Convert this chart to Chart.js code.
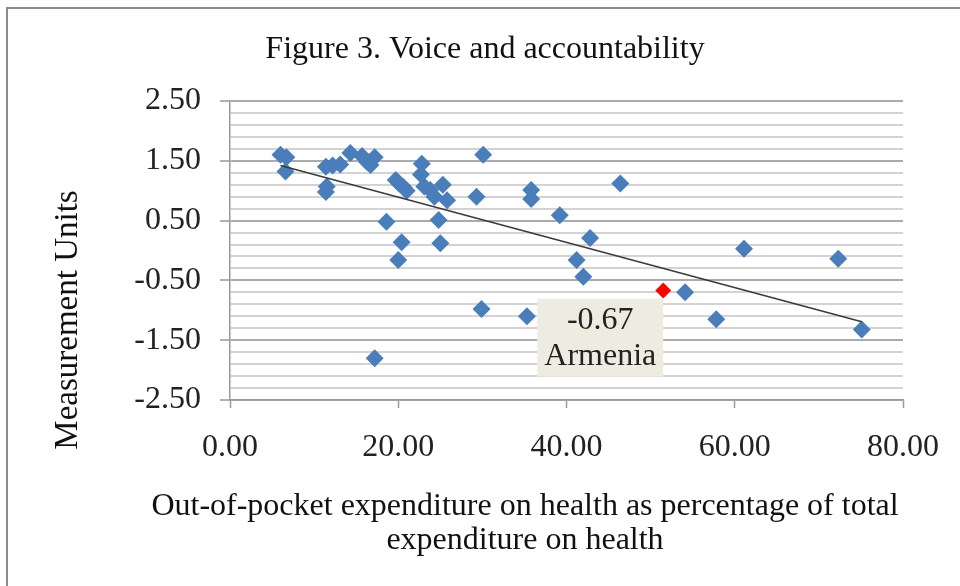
<!DOCTYPE html>
<html lang="en">
<head>
<meta charset="UTF-8">
<title>Figure 3. Voice and accountability</title>
<script src="https://cdn.jsdelivr.net/npm/chart.js"></script>
<style>
  body { margin: 0; background: #fff; }
  .chart-container { position: relative; width: 960px; height: 586px; }
</style>
</head>
<body>
<div class="chart-container"><canvas id="vaChart"></canvas></div>
<script>
  // Out-of-pocket expenditure on health (% of total), one value per country
  const oopX = [6.0, 6.7, 6.6, 11.4, 12.2, 13.1, 11.5, 11.4, 14.3, 15.7,
                16.3, 16.7, 17.2, 19.7, 20.1, 20.6, 21.0, 22.8, 22.7, 23.1,
                23.8, 24.3, 25.3, 25.8, 18.6, 24.8, 20.4, 25.0, 20.0, 17.2,
                30.1, 29.3, 35.8, 35.8, 39.2, 42.8, 46.4, 41.2, 42.0, 54.1,
                29.9, 35.3, 61.1, 72.3, 57.8, 75.1];
  // Voice and accountability score for the same countries
  const vaY = [1.60, 1.56, 1.32, 1.40, 1.42, 1.44, 1.07, 0.98, 1.63, 1.58,
               1.48, 1.43, 1.56, 1.18, 1.12, 1.06, 1.00, 1.45, 1.27, 1.07,
               1.01, 0.90, 1.10, 0.84, 0.48, 0.51, 0.14, 0.12, -0.16, -1.80,
               1.60, 0.90, 1.01, 0.86, 0.59, 0.21, 1.12, -0.16, -0.44, -0.70,
               -0.98, -1.10, 0.03, -0.14, -1.15, -1.32];

  // highlighted country
  const armeniaX = [51.5];
  const armeniaY = [-0.67];
  const armeniaName = ['Armenia'];

  // linear trend line end points
  const trendX = [6.0, 75.1];
  const trendY = [1.42, -1.19];

  const xTickValues = [0, 20, 40, 60, 80];
  const xTickLabels = ['0.00', '20.00', '40.00', '60.00', '80.00'];
  const yTickValues = [-2.5, -1.5, -0.5, 0.5, 1.5, 2.5];
  const yTickLabels = ['-2.50', '-1.50', '-0.50', '0.50', '1.50', '2.50'];

  const xTitle = ['Out-of-pocket expenditure on health as percentage of total',
                  'expenditure on health'];

  const serif = '"Liberation Serif", "Times New Roman", serif';

  function isMajorY(v) {
    return yTickValues.some(t => Math.abs(t - v) < 1e-6);
  }

  // frame, titles and the Armenia call-out
  const decorPlugin = {
    id: 'decor',
    beforeDraw(chart) {
      const ctx = chart.ctx;
      ctx.save();
      ctx.strokeStyle = '#8c8c8c';
      ctx.lineWidth = 2;
      ctx.beginPath();
      ctx.moveTo(7, 586);
      ctx.lineTo(7, 8);
      ctx.lineTo(960, 8);
      ctx.stroke();
      ctx.restore();
    },
    afterDatasetsDraw(chart) {
      const ctx = chart.ctx;
      const xs = chart.scales.x, ys = chart.scales.y;
      const px = xs.getPixelForValue(armeniaX[0]);
      const py = ys.getPixelForValue(armeniaY[0]);
      const w = 126, h = 78;
      const bx = px - w, by = py + 8;
      ctx.save();
      ctx.fillStyle = '#eeece1';
      ctx.fillRect(bx, by, w, h);
      ctx.fillStyle = '#222';
      ctx.font = '32px ' + serif;
      ctx.textAlign = 'center';
      ctx.textBaseline = 'middle';
      ctx.fillText(armeniaY[0].toFixed(2), bx + w / 2, by + 22);
      ctx.fillText(armeniaName[0], bx + w / 2, by + 58);
      ctx.restore();
    },
    afterDraw(chart) {
      const ctx = chart.ctx;
      ctx.save();
      ctx.fillStyle = '#111';
      ctx.font = '32px ' + serif;
      ctx.textAlign = 'center';
      ctx.textBaseline = 'alphabetic';
      ctx.fillText('Figure 3. Voice and accountability', 485, 58);

      // x axis title, wider than the plot area in the original
      ctx.fillText(xTitle[0], 525, 515);
      ctx.fillText(xTitle[1], 525, 549);

      ctx.font = '33px ' + serif;
      ctx.translate(68, 320);
      ctx.rotate(-Math.PI / 2);
      ctx.textBaseline = 'middle';
      ctx.fillText('Measurement Units', 0, 0);
      ctx.restore();
    }
  };

  const ctx = document.getElementById('vaChart').getContext('2d');
  new Chart(ctx, {
    type: 'scatter',
    data: {
      datasets: [
        {
          type: 'line',
          label: 'Trend',
          data: trendX.map((x, i) => ({ x: x, y: trendY[i] })),
          borderColor: '#3a3a3a',
          borderWidth: 1.5,
          pointRadius: 0,
          fill: false
        },
        {
          label: armeniaName[0],
          data: armeniaX.map((x, i) => ({ x: x, y: armeniaY[i] })),
          pointStyle: 'rectRot',
          pointRadius: 8,
          backgroundColor: '#ff0000',
          borderColor: '#ff0000',
          borderWidth: 0
        },
        {
          label: 'Countries',
          data: oopX.map((x, i) => ({ x: x, y: vaY[i] })),
          pointStyle: 'rectRot',
          pointRadius: 9,
          backgroundColor: '#4a7ebb',
          borderColor: '#4a7ebb',
          borderWidth: 0
        }
      ]
    },
    options: {
      responsive: true,
      maintainAspectRatio: false,
      animation: false,
      layout: { padding: { top: 101, right: 57, left: 0, bottom: 0 } },
      plugins: {
        legend: { display: false },
        tooltip: { enabled: false },
        title: { display: false }
      },
      scales: {
        x: {
          type: 'linear',
          min: 0,
          max: 80,
          afterFit: s => { s.height = 186; },
          grid: {
            drawOnChartArea: false,
            drawTicks: true,
            tickLength: 8,
            tickColor: '#999',
            tickWidth: 1.5
          },
          border: { color: '#999', width: 1.5 },
          ticks: {
            stepSize: 20,
            padding: 20,
            color: '#222',
            font: { family: serif, size: 32, lineHeight: 1.2 },
            callback: v => {
              const i = xTickValues.indexOf(v);
              return i >= 0 ? xTickLabels[i] : '';
            }
          },
          title: { display: false }
        },
        y: {
          type: 'linear',
          min: -2.5,
          max: 2.5,
          afterFit: s => { s.width = 230; },
          grid: {
            color: c => isMajorY(c.tick.value) ? '#ababab' : '#d3d3d3',
            lineWidth: 2,
            tickLength: 10,
            tickColor: c => isMajorY(c.tick.value) ? '#999' : 'rgba(0,0,0,0)',
            tickWidth: 1.5
          },
          border: { color: '#999', width: 1.5 },
          ticks: {
            stepSize: 0.2,
            autoSkip: false,
            padding: 19,
            color: '#222',
            font: { family: serif, size: 32, lineHeight: 1.2 },
            callback: v => {
              const i = yTickValues.findIndex(t => Math.abs(t - v) < 1e-6);
              return i >= 0 ? yTickLabels[i] : '';
            }
          }
        }
      }
    },
    plugins: [decorPlugin]
  });
</script>
</body>
</html>
